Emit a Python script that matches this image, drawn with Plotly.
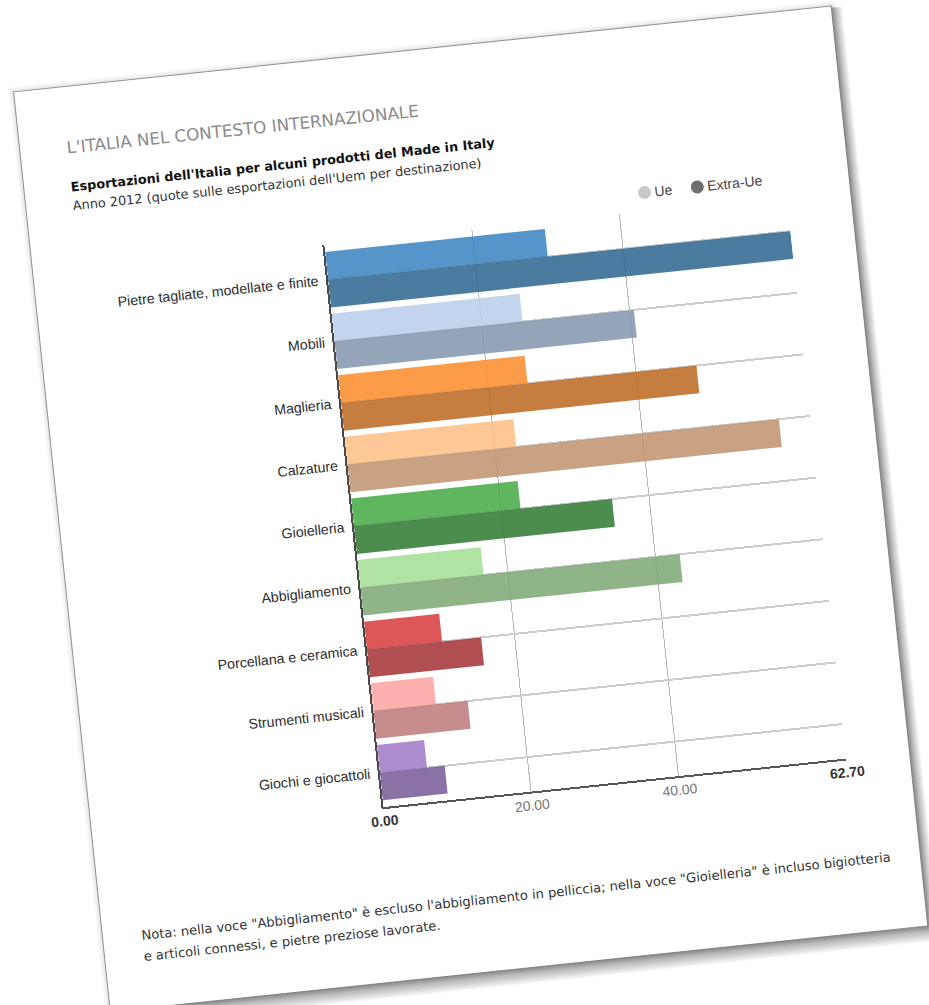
import plotly.graph_objects as go

# Quote sulle esportazioni dell'Uem per destinazione, anno 2012
categorie = [
    "Pietre tagliate, modellate e finite",
    "Mobili",
    "Maglieria",
    "Calzature",
    "Gioielleria",
    "Abbigliamento",
    "Porcellana e ceramica",
    "Strumenti musicali",
    "Giochi e giocattoli",
]
quota_ue = [29.8, 25.5, 25.3, 22.9, 22.6, 16.7, 10.2, 8.5, 6.4]
quota_extra_ue = [62.7, 40.6, 48.2, 58.5, 35.0, 43.3, 15.5, 12.8, 8.8]

tick_valori = [0, 20, 40, 62.7]
tick_testi = ["<b>0.00</b>", "<span style='color:#777'>20.00</span>",
              "<span style='color:#777'>40.00</span>", "<b>62.70</b>"]

colori_ue = ["#5596c9", "#c3d5ec", "#fd9c48", "#fdc895", "#5fb65f",
             "#b0e2a3", "#dd5759", "#fdb1af", "#ae8dcf"]
colori_extra = ["#4b7ca0", "#94a5b9", "#c67d41", "#c8a283", "#4d8c4f",
                "#8eb488", "#b14e52", "#c78c8d", "#8b72a7"]

ALPHA = 0.85


def semitrasparente(hexcol, alpha=ALPHA):
    """Colour with transparency that shows `hexcol` when laid over white."""
    comps = [int(hexcol[i:i + 2], 16) for i in (1, 3, 5)]
    adj = [max(0, min(255, round((v - 255 * (1 - alpha)) / alpha))) for v in comps]
    return f"rgba({adj[0]},{adj[1]},{adj[2]},{alpha})"


W, H = 929, 1005
ML, MR, MT, MB = 352, 112, 232, 208
PW, PH = W - ML - MR, H - MT - MB


def px_x(px):
    return (px - ML) / PW


def px_y(py):
    return (H - MB - py) / PH


fig = go.Figure()
fig.add_trace(go.Bar(
    y=categorie, x=quota_ue, orientation="h", name="Ue",
    marker=dict(color=[semitrasparente(c) for c in colori_ue], line=dict(width=0)),
    showlegend=False, hoverinfo="x+y",
))
fig.add_trace(go.Bar(
    y=categorie, x=quota_extra_ue, orientation="h", name="Extra-Ue",
    marker=dict(color=[semitrasparente(c) for c in colori_extra], line=dict(width=0)),
    showlegend=False, hoverinfo="x+y",
))

shapes = []
# sheet shadow, heavier towards the lower right edge
for k in range(1, 13):
    shapes.append(dict(
        type="rect", xref="paper", yref="paper", layer="below",
        x0=px_x(59 + k * 0.2), x1=px_x(881 + k * 0.9),
        y0=px_y(972 + k * 1.3), y1=px_y(47 + k * 0.2),
        fillcolor="rgba(0,0,0,0.035)", line=dict(width=0),
    ))
for k in range(1, 6):
    shapes.append(dict(
        type="rect", xref="paper", yref="paper", layer="below",
        x0=px_x(59 - k), x1=px_x(881 + k), y0=px_y(972 + k), y1=px_y(47 - k),
        fillcolor="rgba(0,0,0,0.018)", line=dict(width=0),
    ))
# the sheet itself
shapes.append(dict(
    type="rect", xref="paper", yref="paper", layer="below",
    x0=px_x(59), x1=px_x(881), y0=px_y(972), y1=px_y(47),
    fillcolor="white", line=dict(color="rgba(110,110,110,0.75)", width=1),
))
# legend dots
for cx, col in [(676, "#c9c9c9"), (729, "#6f6f6f")]:
    shapes.append(dict(
        type="circle", xref="paper", yref="paper", layer="above",
        x0=px_x(cx - 6.5), x1=px_x(cx + 6.5), y0=px_y(219.5), y1=px_y(206.5),
        fillcolor=col, line=dict(width=0),
    ))

annotations = [
    dict(text="L'ITALIA NEL CONTESTO INTERNAZIONALE", x=px_x(104), y=px_y(108),
         font=dict(family="DejaVu Sans", size=16.8, color="#8a8a8a")),
    dict(text="<b>Esportazioni dell'Italia per alcuni prodotti del Made in Italy</b>",
         x=px_x(104), y=px_y(148),
         font=dict(family="DejaVu Sans", size=12.8, color="#111111")),
    dict(text="Anno 2012 (quote sulle esportazioni dell'Uem per destinazione)",
         x=px_x(104), y=px_y(166),
         font=dict(family="DejaVu Sans", size=12.9, color="#333333")),
    dict(text="Ue", x=px_x(684), y=px_y(213),
         font=dict(family="Liberation Sans", size=14, color="#444444")),
    dict(text="Extra-Ue", x=px_x(737), y=px_y(213),
         font=dict(family="Liberation Sans", size=14, color="#444444")),
    dict(text="Nota: nella voce \"Abbigliamento\" è escluso l'abbigliamento in pelliccia; "
              "nella voce \"Gioielleria\" è incluso bigiotteria",
         x=px_x(96), y=px_y(899),
         font=dict(family="DejaVu Sans", size=13.1, color="#333333")),
    dict(text="e articoli connessi, e pietre preziose lavorate.",
         x=px_x(96), y=px_y(920),
         font=dict(family="DejaVu Sans", size=13.1, color="#333333")),
]
for a in annotations:
    a.update(xref="paper", yref="paper", xanchor="left", yanchor="middle",
             showarrow=False)

fig.update_layout(
    width=W, height=H,
    margin=dict(l=ML, r=MR, t=MT, b=MB, pad=0),
    paper_bgcolor="white", plot_bgcolor="rgba(0,0,0,0)",
    barmode="group", bargap=0.1, bargroupgap=0,
    shapes=shapes, annotations=annotations,
    showlegend=False,
    font=dict(family="Liberation Sans", size=14, color="#2e2e2e"),
)
fig.update_xaxes(
    range=[0, 62.7], tickvals=tick_valori, ticktext=tick_testi,
    showgrid=True, gridcolor="#b8b8b8", gridwidth=1, zeroline=False,
    showline=True, linecolor="#555555", linewidth=2,
    ticks="", tickfont=dict(family="Liberation Sans", size=14, color="#333333"),
    fixedrange=True,
)
fig.update_yaxes(
    type="category", categoryorder="array", categoryarray=categorie,
    range=[8.56, -0.56],
    showgrid=True, gridcolor="#cccccc", gridwidth=1.5,
    showline=True, linecolor="#4a4a4a", linewidth=1.5,
    ticks="", ticklabelstandoff=5,
    tickfont=dict(family="Liberation Sans", size=14.2, color="#2e2e2e"),
    fixedrange=True,
)

post = """
var gd = document.getElementById('{plot_id}');
document.documentElement.style.overflow = 'hidden';
document.body.style.overflow = 'hidden';
document.body.style.margin = '0';
gd.style.transformOrigin = '464.5px 502.5px';
gd.style.transform = 'rotate(-6deg)';
"""

fig.write_html("out.html", post_script=post, config={"displayModeBar": False})
